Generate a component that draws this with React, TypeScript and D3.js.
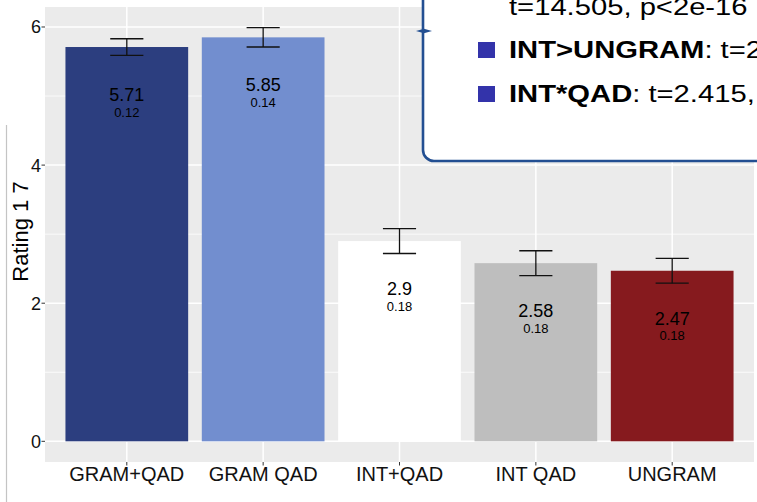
import React from "react";
import * as d3 from "d3";

const categories = ["GRAM+QAD", "GRAM QAD", "INT+QAD", "INT QAD", "UNGRAM"];
const means = [5.71, 5.85, 2.9, 2.58, 2.47];
const ses = [0.12, 0.14, 0.18, 0.18, 0.18];
const barColors = ["#2c3e7f", "#728ecf", "#ffffff", "#bebebe", "#861a1e"];
const yTicks = [0, 2, 4, 6];
const yMinor = [1, 3, 5];
const legendTop = "t=14.505, p<2e-16";
const legendItems = [
  { label: "INT>UNGRAM", rest: ": t=2" },
  { label: "INT*QAD", rest: ": t=2.415," },
];

const W = 757;
const H = 502;
const FONT = "'Liberation Sans', Arial, Helvetica, sans-serif";

export default function App() {
  const panel = { left: 45, right: 754, top: 7, bottom: 462 };
  const x = d3
    .scaleBand<string>()
    .domain(categories)
    .range([panel.left, panel.right])
    .paddingInner(0.1)
    .paddingOuter(0.15);
  const maxV = d3.max(means.map((m, i) => m + ses[i])) as number;
  const ext = maxV * 0.05;
  const y = d3
    .scaleLinear()
    .domain([-ext, maxV + ext])
    .range([panel.bottom, panel.top]);
  const bw = x.bandwidth();
  const capW = bw * 0.27;
  const legendBlue = "#234f92";

  return (
    <svg
      width={W}
      height={H}
      style={{ position: "absolute", left: 0, top: 0, background: "#fff" }}
      fontFamily={FONT}
    >
      <rect x={0} y={0} width={W} height={H} fill="#fff" />
      {/* panel */}
      <rect
        x={panel.left}
        y={panel.top}
        width={panel.right - panel.left}
        height={panel.bottom - panel.top}
        fill="#ebebeb"
      />
      {yMinor.map((t) => (
        <line
          key={"mi" + t}
          x1={panel.left}
          x2={panel.right}
          y1={y(t)}
          y2={y(t)}
          stroke="#fff"
          strokeWidth={0.8}
        />
      ))}
      {yTicks.map((t) => (
        <line
          key={"ma" + t}
          x1={panel.left}
          x2={panel.right}
          y1={y(t)}
          y2={y(t)}
          stroke="#fff"
          strokeWidth={1.5}
        />
      ))}
      {categories.map((c) => (
        <line
          key={"vg" + c}
          x1={(x(c) as number) + bw / 2}
          x2={(x(c) as number) + bw / 2}
          y1={panel.top}
          y2={panel.bottom}
          stroke="#fff"
          strokeWidth={1.5}
        />
      ))}
      {/* bars */}
      {categories.map((c, i) => (
        <rect
          key={"b" + c}
          x={x(c) as number}
          y={y(means[i])}
          width={bw}
          height={y(0) - y(means[i])}
          fill={barColors[i]}
        />
      ))}
      {/* error bars */}
      {categories.map((c, i) => {
        const cx = (x(c) as number) + bw / 2;
        const y1 = y(means[i] + ses[i]);
        const y2 = y(means[i] - ses[i]);
        return (
          <g key={"e" + c} stroke="#111" strokeWidth={1.3}>
            <line x1={cx} x2={cx} y1={y1} y2={y2} />
            <line x1={cx - capW / 2} x2={cx + capW / 2} y1={y1} y2={y1} />
            <line x1={cx - capW / 2} x2={cx + capW / 2} y1={y2} y2={y2} />
          </g>
        );
      })}
      {/* value labels */}
      {categories.map((c, i) => {
        const cx = (x(c) as number) + bw / 2;
        const top = y(means[i]);
        return (
          <g key={"l" + c} textAnchor="middle" fill="#000">
            <text x={cx} y={top + 54} fontSize={18}>
              {String(means[i])}
            </text>
            <text x={cx} y={top + 69.5} fontSize={13}>
              {ses[i].toFixed(2)}
            </text>
          </g>
        );
      })}
      {/* y axis ticks */}
      {yTicks.map((t) => (
        <g key={"yt" + t}>
          <line
            x1={panel.left - 3.5}
            x2={panel.left}
            y1={y(t)}
            y2={y(t)}
            stroke="#333"
            strokeWidth={1}
          />
          <text
            x={panel.left - 4}
            y={y(t)}
            dy="0.36em"
            textAnchor="end"
            fontSize={18}
            fill="#111"
          >
            {t}
          </text>
        </g>
      ))}
      {/* x axis ticks */}
      {categories.map((c) => {
        const cx = (x(c) as number) + bw / 2;
        return (
          <g key={"xt" + c}>
            <line
              x1={cx}
              x2={cx}
              y1={panel.bottom}
              y2={panel.bottom + 3.5}
              stroke="#333"
              strokeWidth={1}
            />
            <text
              x={cx}
              y={panel.bottom + 19}
              textAnchor="middle"
              fontSize={20}
              fill="#111"
            >
              {c}
            </text>
          </g>
        );
      })}
      {/* y title */}
      <text
        transform={`translate(27.5,${(panel.top + panel.bottom) / 2 - 3}) rotate(-90)`}
        textAnchor="middle"
        fontSize={22}
        fill="#000"
      >
        Rating 1 7
      </text>
      {/* left gray rule */}
      <line x1={6.5} x2={6.5} y1={125} y2={H} stroke="#c4c4c4" strokeWidth={1.2} />
      {/* legend box */}
      <rect
        x={423}
        y={-30}
        width={400}
        height={191}
        rx={11}
        ry={11}
        fill="#fff"
        stroke={legendBlue}
        strokeWidth={2.6}
      />
      <path d="M416,31 L424,28.8 L432,31 L424,33.2 Z" fill={legendBlue} />
      <g transform="translate(509,0) scale(1.27,1)" fontSize={23} fill="#000">
        <text x={0} y={15}>
          {legendTop}
        </text>
        {legendItems.map((it, i) => (
          <text key={"lg" + i} x={0} y={58 + i * 44}>
            <tspan fontWeight="bold">{it.label}</tspan>
            <tspan>{it.rest}</tspan>
          </text>
        ))}
      </g>
      {legendItems.map((it, i) => (
        <rect
          key={"sq" + i}
          x={478}
          y={42 + i * 44}
          width={17}
          height={16}
          fill="#3333aa"
        />
      ))}
    </svg>
  );
}
